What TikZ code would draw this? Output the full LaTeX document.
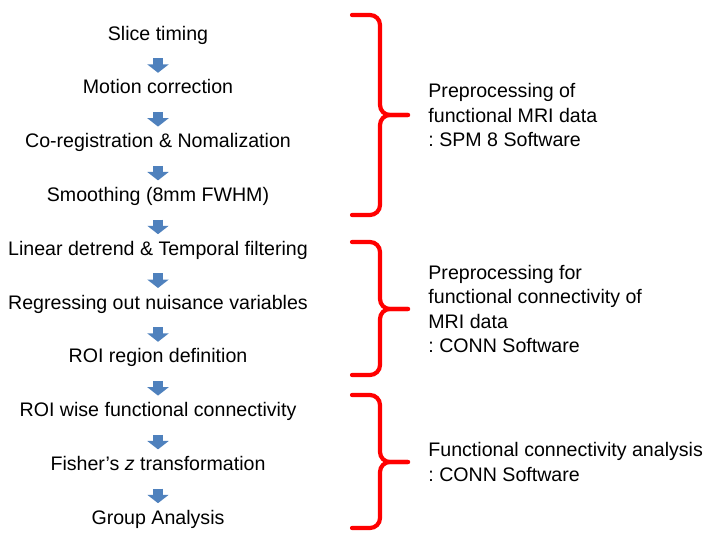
\documentclass[tikz,border=0pt]{standalone}
\usepackage{fontspec}
\setmainfont{Liberation Sans}
\usepackage{xcolor}
\usepackage{tikz}
\usetikzlibrary{positioning,calc,arrows.meta}
\definecolor{CFlow}{HTML}{4F81BD}
\definecolor{CBrace}{HTML}{FF0000}
\definecolor{CInk}{HTML}{000000}
\frenchspacing

\begin{document}
\begin{tikzpicture}[x=0.5pt, y=-0.5pt,
  every node/.style={font=\fontsize{9.8pt}{12.25pt}\selectfont, text=CInk},
  stepbox/.style={inner sep=0pt, text height=7.2pt, text depth=2pt, anchor=center},
  note/.style ={inner sep=0pt, align=left, anchor=west},
  flow/.style ={draw=CFlow, line width=5pt, -{Triangle[length=4.2pt, width=10.5pt]},
                shorten <=6.8pt, shorten >=3.2pt},
  bracket/.style={draw=CBrace, line width=2.1pt, rounded corners=5pt, line cap=round},
  node distance=26.9pt, on grid]
\useasboundingbox (0,0) rectangle (706,533);
% processing steps
\node[stepbox] (s1) at (158,35) {Slice timing};
\node[stepbox, below=of s1] (s2)  {Motion correction};
\node[stepbox, below=of s2] (s3)  {Co-registration \& Nomalization};
\node[stepbox, below=of s3] (s4)  {Smoothing (8mm FWHM)};
\node[stepbox, below=of s4] (s5)  {Linear detrend \& Temporal filtering};
\node[stepbox, below=of s5] (s6)  {Regressing out nuisance variables};
\node[stepbox, below=of s6] (s7)  {ROI region definition};
\node[stepbox, below=of s7] (s8)  {ROI wise functional connectivity};
\node[stepbox, below=of s8] (s9)  {Fisher’s \textit{z} transformation};
\node[stepbox, below=of s9] (s10) {Group Analysis};
\foreach \a/\b in {s1/s2,s2/s3,s3/s4,s4/s5,s5/s6,s6/s7,s7/s8,s8/s9,s9/s10}
  {\draw[flow] (\a) -- (\b);}
% braces
\foreach \yt/\ym/\yb/\nm in {15/115/215/tipA, 242/309/375/tipB, 395/462/528/tipC} {
  \coordinate (\nm) at (408,\ym);
  \draw[bracket] (352,\yt) -- (380,\yt) -- (380,\ym) -- (\nm);
  \draw[bracket] (352,\yb) -- (380,\yb) -- (380,\ym) -- (\nm);
}
\node[note, right=20*0.5pt of tipA] (pre)  {Preprocessing of\\functional MRI data\\: SPM 8 Software};
\node[note, right=20*0.5pt of tipB] (conn) {Preprocessing for\\functional connectivity of\\MRI data\\: CONN Software};
\node[note, right=20*0.5pt of tipC] (ana)  {Functional connectivity analysis\\: CONN Software};
\end{tikzpicture}
\end{document}
